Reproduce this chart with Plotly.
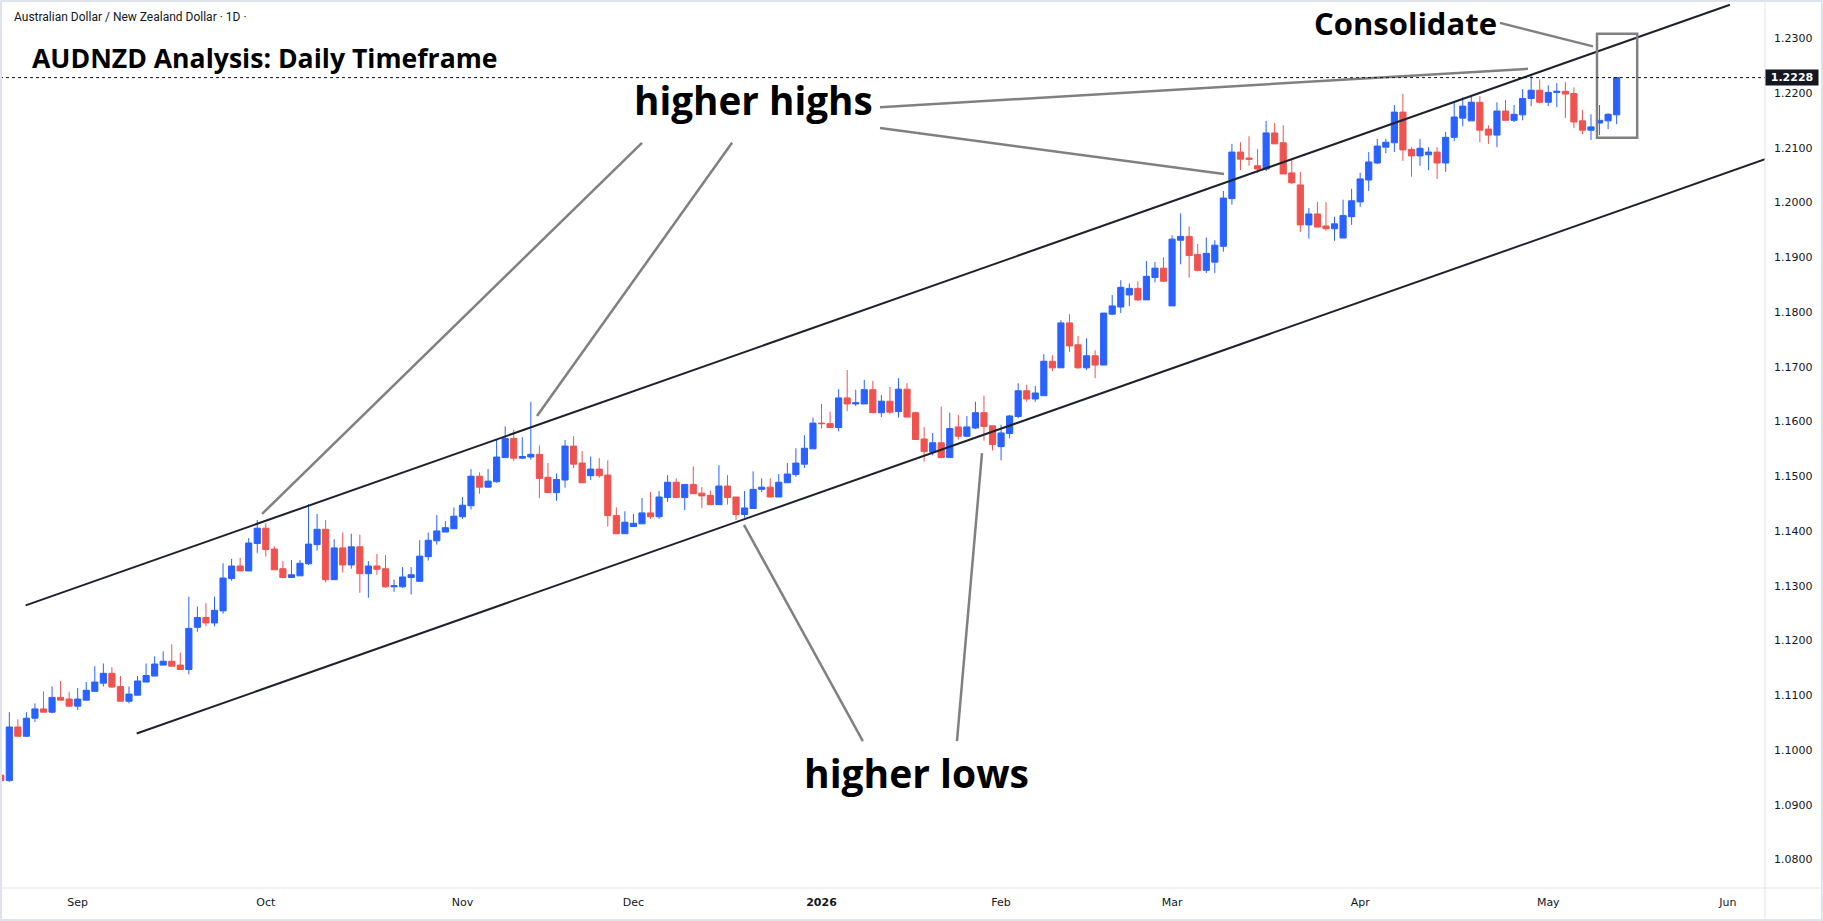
import pandas as pd
import plotly.graph_objects as go

# ---------------- data (AUDNZD daily) ----------------
start_date = "2025-08-19"
holidays = ["2025-12-25", "2026-01-01"]

opens = [
    1.0954, 1.0944, 1.1042, 1.1025, 1.1058, 1.1075, 1.1069, 1.1096, 1.1093, 1.1080,
    1.1091, 1.1107, 1.1122, 1.1140, 1.1116, 1.1089, 1.1100, 1.1124, 1.1135, 1.1155,
    1.1162, 1.1155, 1.1147, 1.1224, 1.1242, 1.1232, 1.1254, 1.1313, 1.1336, 1.1327,
    1.1377, 1.1405, 1.1367, 1.1331, 1.1315, 1.1318, 1.1340, 1.1375, 1.1403, 1.1311,
    1.1369, 1.1338, 1.1371, 1.1322, 1.1336, 1.1331, 1.1298, 1.1298, 1.1315, 1.1308,
    1.1353, 1.1382, 1.1398, 1.1404, 1.1426, 1.1446, 1.1500, 1.1480, 1.1490, 1.1534,
    1.1569, 1.1533, 1.1535, 1.1540, 1.1498, 1.1470, 1.1493, 1.1555, 1.1524, 1.1501,
    1.1513, 1.1502, 1.1428, 1.1395, 1.1408, 1.1413, 1.1433, 1.1426, 1.1461, 1.1489,
    1.1461, 1.1485, 1.1469, 1.1465, 1.1448, 1.1482, 1.1462, 1.1430, 1.1441, 1.1476,
    1.1480, 1.1462, 1.1488, 1.1503, 1.1522, 1.1550, 1.1597, 1.1596, 1.1589, 1.1643,
    1.1632, 1.1632, 1.1658, 1.1616, 1.1637, 1.1618, 1.1659, 1.1616, 1.1568, 1.1544,
    1.1561, 1.1534, 1.1590, 1.1573, 1.1588, 1.1616, 1.1592, 1.1554, 1.1578, 1.1609,
    1.1656, 1.1641, 1.1647, 1.1710, 1.1698, 1.1780, 1.1740, 1.1698, 1.1720, 1.1703,
    1.1796, 1.1809, 1.1831, 1.1843, 1.1822, 1.1863, 1.1880, 1.1811, 1.1931, 1.1938,
    1.1905, 1.1876, 1.1891, 1.1920, 1.2007, 1.2092, 1.2081, 1.2067, 1.2061, 1.2127,
    1.2109, 1.2054, 1.2032, 1.1959, 1.1979, 1.1957, 1.1952, 1.1935, 1.1974, 1.2001,
    1.2041, 1.2072, 1.2101, 1.2109, 1.2165, 1.2097, 1.2085, 1.2087, 1.2092, 1.2072,
    1.2119, 1.2154, 1.2149, 1.2183, 1.2134, 1.2123, 1.2167, 1.2150, 1.2160, 1.2190,
    1.2205, 1.2183, 1.2201, 1.2203, 1.2199, 1.2149, 1.2132, 1.2145, 1.2149, 1.2160,
]

highs = [
    1.0958, 1.1069, 1.1056, 1.1069, 1.1085, 1.1107, 1.1116, 1.1126, 1.1106, 1.1113,
    1.1124, 1.1153, 1.1158, 1.1151, 1.1135, 1.1116, 1.1135, 1.1158, 1.1171, 1.1180,
    1.1193, 1.1178, 1.1280, 1.1262, 1.1268, 1.1280, 1.1341, 1.1349, 1.1351, 1.1387,
    1.1420, 1.1414, 1.1372, 1.1345, 1.1347, 1.1347, 1.1449, 1.1431, 1.1420, 1.1385,
    1.1397, 1.1395, 1.1393, 1.1345, 1.1358, 1.1356, 1.1311, 1.1334, 1.1334, 1.1383,
    1.1397, 1.1429, 1.1418, 1.1443, 1.1462, 1.1513, 1.1507, 1.1513, 1.1567, 1.1591,
    1.1585, 1.1571, 1.1636, 1.1556, 1.1524, 1.1505, 1.1566, 1.1573, 1.1546, 1.1536,
    1.1533, 1.1529, 1.1443, 1.1436, 1.1431, 1.1460, 1.1471, 1.1473, 1.1502, 1.1496,
    1.1485, 1.1518, 1.1480, 1.1474, 1.1520, 1.1502, 1.1462, 1.1473, 1.1509, 1.1496,
    1.1496, 1.1504, 1.1524, 1.1551, 1.1575, 1.1607, 1.1632, 1.1618, 1.1659, 1.1694,
    1.1658, 1.1676, 1.1674, 1.1648, 1.1663, 1.1679, 1.1670, 1.1618, 1.1590, 1.1579,
    1.1627, 1.1616, 1.1612, 1.1610, 1.1636, 1.1647, 1.1592, 1.1594, 1.1612, 1.1670,
    1.1667, 1.1665, 1.1723, 1.1721, 1.1785, 1.1796, 1.1756, 1.1752, 1.1730, 1.1798,
    1.1831, 1.1858, 1.1852, 1.1856, 1.1893, 1.1891, 1.1900, 1.1940, 1.1980, 1.1956,
    1.1924, 1.1936, 1.1931, 1.2021, 1.2107, 1.2110, 1.2121, 1.2098, 1.2149, 1.2145,
    1.2141, 1.2079, 1.2056, 1.1990, 1.2001, 1.2001, 1.1974, 1.2005, 1.2025, 1.2054,
    1.2092, 1.2116, 1.2116, 1.2178, 1.2198, 1.2101, 1.2116, 1.2101, 1.2101, 1.2129,
    1.2185, 1.2192, 1.2194, 1.2194, 1.2141, 1.2183, 1.2187, 1.2178, 1.2207, 1.2234,
    1.2225, 1.2214, 1.2218, 1.2220, 1.2210, 1.2169, 1.2161, 1.2178, 1.2163, 1.2228,
]

lows = [
    1.0940, 1.0942, 1.1025, 1.1024, 1.1051, 1.1069, 1.1067, 1.1091, 1.1080, 1.1073,
    1.1091, 1.1106, 1.1116, 1.1113, 1.1089, 1.1085, 1.1100, 1.1124, 1.1135, 1.1155,
    1.1153, 1.1147, 1.1138, 1.1216, 1.1226, 1.1226, 1.1249, 1.1309, 1.1327, 1.1327,
    1.1360, 1.1353, 1.1329, 1.1315, 1.1315, 1.1318, 1.1338, 1.1364, 1.1306, 1.1311,
    1.1324, 1.1331, 1.1287, 1.1278, 1.1320, 1.1296, 1.1289, 1.1296, 1.1284, 1.1308,
    1.1346, 1.1375, 1.1398, 1.1404, 1.1422, 1.1439, 1.1468, 1.1479, 1.1488, 1.1533,
    1.1528, 1.1532, 1.1530, 1.1460, 1.1470, 1.1455, 1.1479, 1.1515, 1.1488, 1.1493,
    1.1497, 1.1408, 1.1395, 1.1395, 1.1408, 1.1413, 1.1422, 1.1422, 1.1453, 1.1461,
    1.1438, 1.1468, 1.1442, 1.1448, 1.1448, 1.1448, 1.1420, 1.1424, 1.1441, 1.1471,
    1.1462, 1.1462, 1.1488, 1.1499, 1.1515, 1.1550, 1.1587, 1.1589, 1.1582, 1.1619,
    1.1628, 1.1632, 1.1616, 1.1608, 1.1614, 1.1607, 1.1608, 1.1567, 1.1527, 1.1538,
    1.1534, 1.1534, 1.1567, 1.1571, 1.1586, 1.1565, 1.1547, 1.1529, 1.1569, 1.1606,
    1.1636, 1.1636, 1.1647, 1.1692, 1.1698, 1.1727, 1.1696, 1.1694, 1.1679, 1.1703,
    1.1794, 1.1798, 1.1811, 1.1820, 1.1822, 1.1854, 1.1856, 1.1811, 1.1887, 1.1863,
    1.1874, 1.1871, 1.1871, 1.1910, 1.1996, 1.2059, 1.2067, 1.2054, 1.2057, 1.2107,
    1.2052, 1.2034, 1.1946, 1.1934, 1.1955, 1.1948, 1.1930, 1.1935, 1.1959, 1.1992,
    1.2021, 1.2070, 1.2090, 1.2092, 1.2076, 1.2047, 1.2067, 1.2059, 1.2043, 1.2056,
    1.2112, 1.2139, 1.2149, 1.2110, 1.2107, 1.2101, 1.2150, 1.2147, 1.2150, 1.2176,
    1.2181, 1.2176, 1.2174, 1.2154, 1.2136, 1.2125, 1.2114, 1.2123, 1.2134, 1.2143,
]

closes = [
    1.0944, 1.1042, 1.1025, 1.1058, 1.1075, 1.1069, 1.1096, 1.1091, 1.1080, 1.1093,
    1.1109, 1.1124, 1.1140, 1.1115, 1.1089, 1.1102, 1.1126, 1.1136, 1.1157, 1.1162,
    1.1153, 1.1147, 1.1222, 1.1242, 1.1232, 1.1255, 1.1314, 1.1336, 1.1327, 1.1378,
    1.1405, 1.1366, 1.1329, 1.1315, 1.1320, 1.1341, 1.1376, 1.1403, 1.1311, 1.1369,
    1.1338, 1.1371, 1.1322, 1.1336, 1.1330, 1.1298, 1.1300, 1.1316, 1.1320, 1.1354,
    1.1383, 1.1400, 1.1406, 1.1427, 1.1447, 1.1500, 1.1480, 1.1491, 1.1535, 1.1569,
    1.1533, 1.1536, 1.1540, 1.1496, 1.1470, 1.1494, 1.1555, 1.1522, 1.1488, 1.1513,
    1.1501, 1.1428, 1.1395, 1.1416, 1.1414, 1.1433, 1.1426, 1.1462, 1.1489, 1.1461,
    1.1485, 1.1468, 1.1464, 1.1448, 1.1482, 1.1461, 1.1430, 1.1442, 1.1476, 1.1480,
    1.1462, 1.1489, 1.1504, 1.1524, 1.1551, 1.1597, 1.1596, 1.1589, 1.1643, 1.1632,
    1.1634, 1.1658, 1.1616, 1.1637, 1.1617, 1.1659, 1.1608, 1.1567, 1.1545, 1.1561,
    1.1534, 1.1587, 1.1573, 1.1590, 1.1616, 1.1591, 1.1558, 1.1579, 1.1610, 1.1656,
    1.1641, 1.1652, 1.1710, 1.1698, 1.1780, 1.1738, 1.1698, 1.1720, 1.1703, 1.1798,
    1.1811, 1.1845, 1.1843, 1.1822, 1.1865, 1.1880, 1.1856, 1.1933, 1.1938, 1.1903,
    1.1876, 1.1907, 1.1922, 1.2008, 1.2092, 1.2079, 1.2079, 1.2061, 1.2127, 1.2107,
    1.2052, 1.2036, 1.1959, 1.1979, 1.1955, 1.1952, 1.1961, 1.1976, 1.2003, 1.2043,
    1.2074, 1.2103, 1.2110, 1.2165, 1.2096, 1.2085, 1.2099, 1.2092, 1.2072, 1.2119,
    1.2156, 1.2176, 1.2183, 1.2132, 1.2123, 1.2167, 1.2150, 1.2161, 1.2190, 1.2205,
    1.2183, 1.2201, 1.2203, 1.2198, 1.2147, 1.2132, 1.2138, 1.2150, 1.2161, 1.2228,
]

last_price = 1.2228
price_ticks = [1.08, 1.09, 1.10, 1.11, 1.12, 1.13, 1.14, 1.15, 1.16, 1.17,
               1.18, 1.19, 1.20, 1.21, 1.22, 1.23]
month_names = {9: "Sep", 10: "Oct", 11: "Nov", 12: "Dec", 1: "2026",
               2: "Feb", 3: "Mar", 4: "Apr", 5: "May", 6: "Jun"}

# trend-line anchors (bar index, price)
upper_channel = [(2.91, 1.1264), (202.25, 1.2361)]
lower_channel = [(15.90, 1.1030), (206.35, 1.2079)]

# ---------------- build trading calendar ----------------
days = pd.bdate_range(start_date, "2026-06-30")
days = days[~days.isin(pd.to_datetime(holidays))]
N = min(len(opens), len(highs), len(lows), len(closes))
xs = list(range(N))

tickvals, ticktext = [], []
seen = set()
for i, d in enumerate(days):
    key = (d.year, d.month)
    if key in seen:
        continue
    seen.add(key)
    if d.month in month_names and i > 0:
        tickvals.append(i)
        txt = month_names[d.month]
        ticktext.append("<b>2026</b>" if txt == "2026" else txt)

UP = "#2962FF"
DOWN = "#EF5350"

fig = go.Figure()
fig.add_trace(go.Candlestick(
    x=xs, open=opens[:N], high=highs[:N], low=lows[:N], close=closes[:N],
    increasing=dict(line=dict(color=UP, width=1), fillcolor=UP),
    decreasing=dict(line=dict(color=DOWN, width=1), fillcolor=DOWN),
    whiskerwidth=0, showlegend=False, hoverinfo="skip",
))

W, H = 1823, 921
ML, MR, MT, MB = 0, 58, 0, 33
PW, PH = W - ML - MR, H - MT - MB


def px(xp):
    return (xp - ML) / PW


def py(yp):
    return 1 - (yp - MT) / PH


shapes = []
# channel lines
for a, b in (upper_channel, lower_channel):
    shapes.append(dict(type="line", xref="x", yref="y", x0=a[0], y0=a[1], x1=b[0], y1=b[1],
                       line=dict(color="#1E222D", width=2), layer="above"))

GRAY = "#808080"
pointer_lines = [
    ((102.84, 1.2174), (178.63, 1.2244)),   # higher highs -> late April high
    ((102.84, 1.2136), (143.07, 1.2052)),   # higher highs -> March high
    ((75.00, 1.2109), (30.56, 1.1431)),     # higher highs -> October high
    ((85.53, 1.2109), (62.72, 1.1610)),     # higher highs -> November high
    ((100.83, 1.1016), (86.93, 1.1411)),    # higher lows -> December low
    ((111.84, 1.1016), (114.77, 1.1542)),   # higher lows -> January low
    ((175.35, 1.2328), (186.23, 1.2285)),   # Consolidate -> box
]
for a, b in pointer_lines:
    shapes.append(dict(type="line", xref="x", yref="y", x0=a[0], y0=a[1], x1=b[0], y1=b[1],
                       line=dict(color=GRAY, width=2.5), layer="above"))

# consolidation box
shapes.append(dict(type="rect", xref="x", yref="y", x0=186.7, x1=191.4, y0=1.2118, y1=1.2308,
                   line=dict(color=GRAY, width=2.5), fillcolor="rgba(0,0,0,0)", layer="above"))

# last price dotted line
shapes.append(dict(type="line", xref="paper", yref="y", x0=0, x1=1, y0=last_price, y1=last_price,
                   line=dict(color="#131722", width=1, dash="dot"), layer="above"))

# frame / axis separators
BORDER = "#E0E3EB"
shapes.append(dict(type="line", xref="paper", yref="paper", x0=1, x1=1, y0=py(921), y1=py(0),
                   line=dict(color=BORDER, width=1)))
shapes.append(dict(type="line", xref="paper", yref="paper", x0=px(0), x1=px(1823), y0=0, y1=0,
                   line=dict(color=BORDER, width=1)))
shapes.append(dict(type="rect", xref="paper", yref="paper", x0=px(1), x1=px(1822),
                   y0=py(920), y1=py(1), line=dict(color=BORDER, width=2),
                   fillcolor="rgba(0,0,0,0)"))

annotations = [
    dict(text="Australian Dollar / New Zealand Dollar · 1D ·", xref="paper", yref="paper",
         x=px(12), y=py(17), xanchor="left", yanchor="middle", showarrow=False,
         font=dict(family="Roboto", size=12, color="#131722")),
    dict(text="<b>AUDNZD Analysis: Daily Timeframe</b>", xref="paper", yref="paper",
         x=px(30), y=py(58), xanchor="left", yanchor="middle", showarrow=False,
         font=dict(family="Open Sans", size=26.6, color="#000000")),
    dict(text="<b>higher highs</b>", xref="x", yref="y", x=88.0, y=1.2187,
         xanchor="center", yanchor="middle", showarrow=False,
         font=dict(family="Open Sans", size=38.7, color="#000000")),
    dict(text="<b>higher lows</b>", xref="x", yref="y", x=107.1, y=1.0958,
         xanchor="center", yanchor="middle", showarrow=False,
         font=dict(family="Open Sans", size=39, color="#000000")),
    dict(text="<b>Consolidate</b>", xref="x", yref="y", x=164.3, y=1.2327,
         xanchor="center", yanchor="middle", showarrow=False,
         font=dict(family="Open Sans", size=31, color="#000000")),
    dict(text="<b>%.4f</b>" % last_price, xref="paper", yref="y", x=1.0, y=last_price,
         xanchor="left", yanchor="middle", showarrow=False, bgcolor="#131722",
         borderpad=1, width=50, align="center",
         font=dict(family="DejaVu Sans", size=11, color="#FFFFFF")),
]

y_lo = 1.2300 - (PH - 38.2) / 5475
y_hi = 1.2300 + 38.2 / 5475

fig.update_layout(
    width=W, height=H,
    margin=dict(l=ML, r=MR, t=MT, b=MB),
    paper_bgcolor="#FFFFFF", plot_bgcolor="#FFFFFF",
    boxgap=0.28, boxgroupgap=0,
    shapes=shapes, annotations=annotations,
    xaxis=dict(range=[-0.088, 206.35], showgrid=False, zeroline=False, showline=False,
               rangeslider=dict(visible=False), tickmode="array", tickvals=tickvals,
               ticktext=ticktext, ticks="", ticklabelstandoff=6,
               tickfont=dict(family="DejaVu Sans", size=11, color="#131722")),
    yaxis=dict(range=[y_lo, y_hi], side="right", showgrid=False, zeroline=False,
               showline=False, tickmode="array", tickvals=price_ticks,
               ticktext=["%.4f" % v for v in price_ticks], ticks="",
               ticklabelstandoff=8,
               tickfont=dict(family="DejaVu Sans", size=11, color="#131722")),
    showlegend=False,
)

fig.write_html("out.html")
